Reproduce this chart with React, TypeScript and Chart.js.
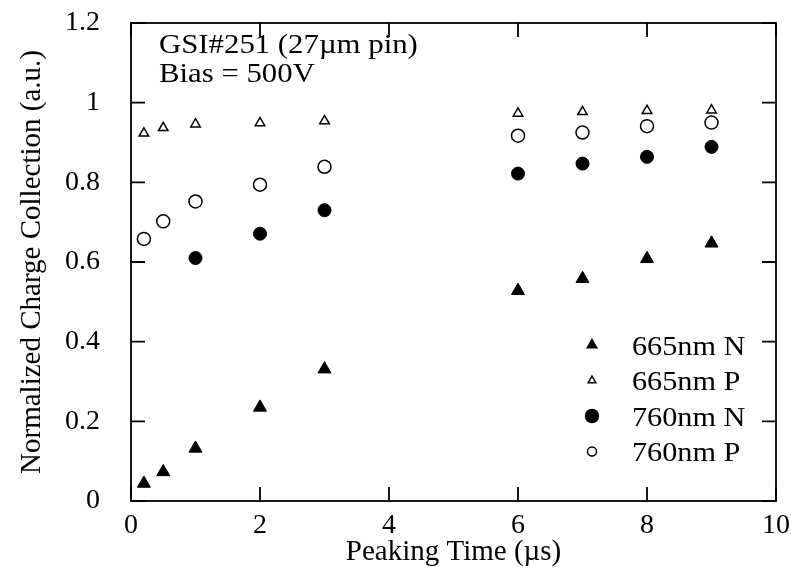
import React, { useEffect, useRef } from 'react';
import { Chart, registerables } from 'chart.js';
import { drawPoint } from 'chart.js/helpers';

Chart.register(...registerables);

// ---- data ----
const peakingTimes = [0.2, 0.5, 1, 2, 3, 6, 7, 8, 9];
const peakingTimes760N = [1, 2, 3, 6, 7, 8, 9];
const n665 = [0.044, 0.073, 0.132, 0.235, 0.331, 0.528, 0.558, 0.608, 0.647];
const p665 = [0.923, 0.937, 0.946, 0.949, 0.954, 0.973, 0.977, 0.98, 0.981];
const n760 = [0.61, 0.671, 0.73, 0.822, 0.847, 0.864, 0.889];
const p760 = [0.658, 0.702, 0.752, 0.794, 0.839, 0.917, 0.925, 0.941, 0.95];

const xTicks = [0, 2, 4, 6, 8, 10];
const yTicks = [0, 0.2, 0.4, 0.6, 0.8, 1, 1.2];
const seriesLabels = ['665nm N', '665nm P', '760nm N', '760nm P'];
const annotationLines = ['GSI#251 (27\u00b5m pin)', 'Bias = 500V'];
const xTitle = 'Peaking Time (\u00b5s)';
const yTitle = 'Normalized Charge Collection (a.u.)';

const FONT = '"Liberation Serif", "Times New Roman", serif';

const legendStyles = [
  { pointStyle: 'triangle', radius: 5.5, fill: '#000' },
  { pointStyle: 'triangle', radius: 4.5, fill: '#fff' },
  { pointStyle: 'circle', radius: 6.5, fill: '#000' },
  { pointStyle: 'circle', radius: 4.5, fill: '#fff' },
];

function stretchedText(ctx: any, text: string, x: number, y: number, sx: number) {
  ctx.save();
  ctx.translate(x, y);
  ctx.scale(sx, 1);
  ctx.fillText(text, 0, 0);
  ctx.restore();
}

const framePlugin = {
  id: 'frame',
  afterDatasetsDraw(chart: any) {
    const { ctx, chartArea } = chart;
    const { left, right, top, bottom } = chartArea;
    const xs = chart.scales.x;
    const ys = chart.scales.y;
    const tl = 14;
    ctx.save();
    ctx.strokeStyle = '#000';
    ctx.lineWidth = 1.8;
    ctx.strokeRect(left, top, right - left, bottom - top);
    ctx.beginPath();
    xTicks.forEach((v) => {
      const px = xs.getPixelForValue(v);
      ctx.moveTo(px, bottom);
      ctx.lineTo(px, bottom - tl);
      ctx.moveTo(px, top);
      ctx.lineTo(px, top + tl);
    });
    yTicks.forEach((v) => {
      const py = ys.getPixelForValue(v);
      ctx.moveTo(left, py);
      ctx.lineTo(left + tl, py);
      ctx.moveTo(right, py);
      ctx.lineTo(right - tl, py);
    });
    ctx.stroke();
    ctx.restore();
  },
  afterDraw(chart: any) {
    const { ctx, chartArea } = chart;
    ctx.save();
    ctx.fillStyle = '#000';
    ctx.textBaseline = 'alphabetic';
    ctx.textAlign = 'left';
    ctx.font = `27px ${FONT}`;
    annotationLines.forEach((t, i) => {
      stretchedText(ctx, t, chartArea.left + 28, chartArea.top + 30 + i * 29, 1.14);
    });
    // legend
    const mx = chartArea.right - 184;
    const tx = chartArea.right - 144;
    legendStyles.forEach((s, i) => {
      const y = chartArea.top + 322 + i * 35.5;
      ctx.fillStyle = s.fill;
      ctx.strokeStyle = '#000';
      ctx.lineWidth = 1.5;
      drawPoint(ctx, { pointStyle: s.pointStyle as any, radius: s.radius, rotation: 0, borderWidth: 1.5 }, mx, y);
      ctx.fillStyle = '#000';
      ctx.font = `28px ${FONT}`;
      stretchedText(ctx, seriesLabels[i], tx, y + 9.5, 1.08);
    });
    ctx.restore();
  },
};

function toPoints(xs: number[], ys: number[]) {
  return xs.map((x, i) => ({ x, y: ys[i] }));
}

export default function App() {
  const ref = useRef<HTMLCanvasElement | null>(null);
  useEffect(() => {
    document.body.style.margin = '0';
    const canvas = ref.current!;
    const chart = new Chart(canvas, {
      type: 'scatter',
      data: {
        datasets: [
          {
            label: seriesLabels[0],
            data: toPoints(peakingTimes, n665),
            pointStyle: 'triangle',
            pointRadius: 7.5,
            backgroundColor: '#000',
            borderColor: '#000',
            borderWidth: 1,
          },
          {
            label: seriesLabels[1],
            data: toPoints(peakingTimes, p665),
            pointStyle: 'triangle',
            pointRadius: 5.5,
            backgroundColor: '#fff',
            borderColor: '#000',
            borderWidth: 1.5,
          },
          {
            label: seriesLabels[2],
            data: toPoints(peakingTimes760N, n760),
            pointStyle: 'circle',
            pointRadius: 6.5,
            backgroundColor: '#000',
            borderColor: '#000',
            borderWidth: 1,
          },
          {
            label: seriesLabels[3],
            data: toPoints(peakingTimes, p760),
            pointStyle: 'circle',
            pointRadius: 6.5,
            backgroundColor: '#fff',
            borderColor: '#000',
            borderWidth: 1.5,
          },
        ],
      },
      options: {
        responsive: false,
        animation: false,
        events: [],
        layout: { padding: { top: 23, right: 19, left: 0, bottom: 0 } },
        plugins: {
          legend: { display: false },
          tooltip: { enabled: false },
        },
        scales: {
          x: {
            type: 'linear',
            min: 0,
            max: 10,
            afterBuildTicks: (s: any) => {
              s.ticks = xTicks.map((v) => ({ value: v }));
            },
            afterFit: (s: any) => {
              s.height = 74;
              s.paddingLeft = 0;
              s.paddingRight = 0;
            },
            grid: { display: false, drawTicks: false },
            border: { display: false },
            ticks: {
              color: '#000',
              font: { family: FONT, size: 28 },
              padding: 8,
              maxRotation: 0,
              autoSkip: false,
            },
            title: {
              display: true,
              text: xTitle,
              color: '#000',
              font: { family: FONT, size: 29 },
              padding: { top: 0, bottom: 5 },
            },
          },
          y: {
            type: 'linear',
            min: 0,
            max: 1.2,
            afterBuildTicks: (s: any) => {
              s.ticks = yTicks.map((v) => ({ value: v }));
            },
            afterFit: (s: any) => {
              s.width = 131;
              s.paddingTop = 0;
              s.paddingBottom = 0;
            },
            grid: { display: false, drawTicks: false },
            border: { display: false },
            ticks: {
              color: '#000',
              font: { family: FONT, size: 28 },
              padding: 31,
              autoSkip: false,
              callback: (v: any) => String(Number(Number(v).toFixed(1))),
            },
            title: {
              display: true,
              text: yTitle,
              color: '#000',
              font: { family: FONT, size: 29 },
              padding: { top: 15, bottom: 0 },
            },
          },
        },
      } as any,
      plugins: [framePlugin],
    });
    return () => chart.destroy();
  }, []);
  return (
    <div style={{ position: 'absolute', left: 0, top: 0, width: 795, height: 575 }}>
      <canvas ref={ref} width={795} height={575} />
    </div>
  );
}
